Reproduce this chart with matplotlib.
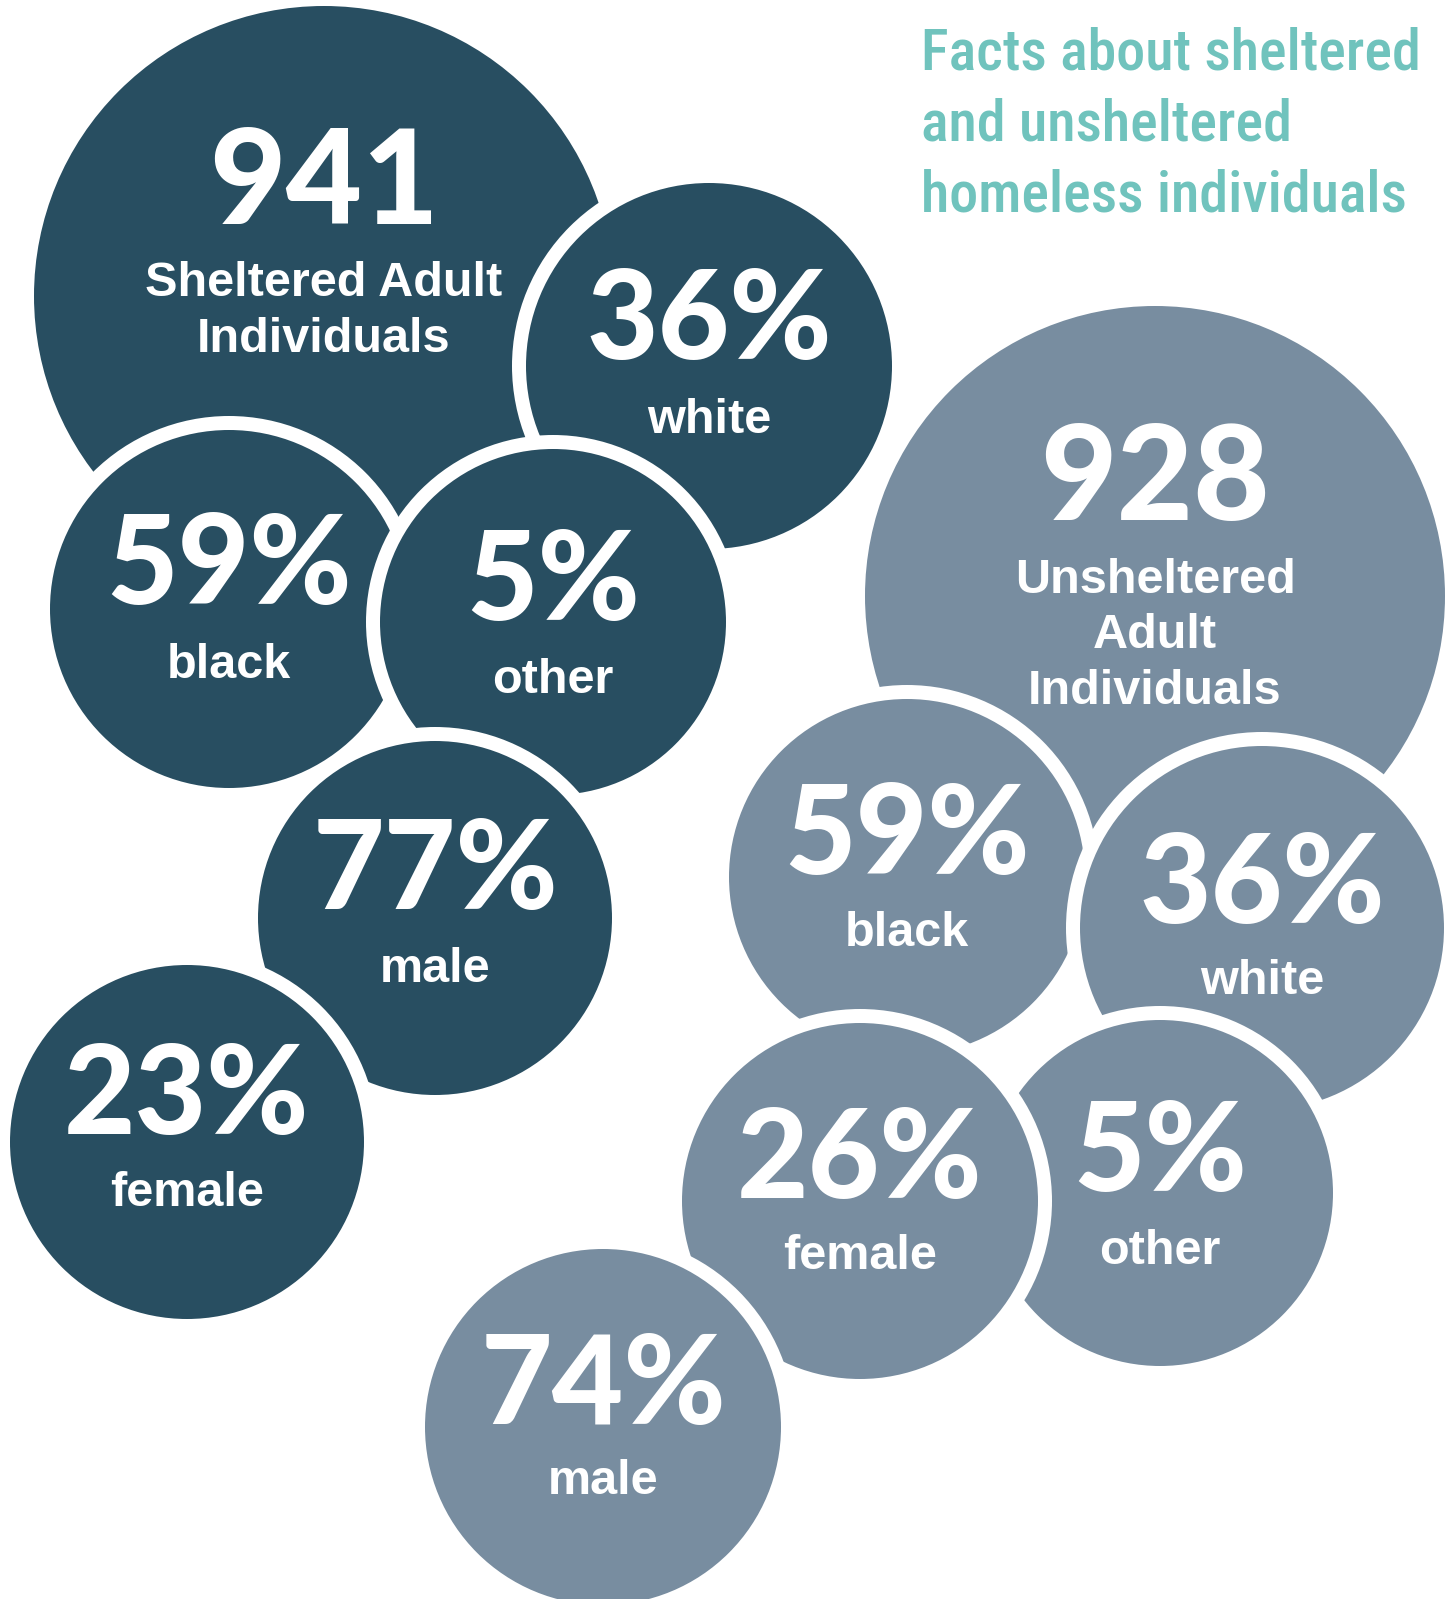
import matplotlib
matplotlib.use("Agg")
import matplotlib.pyplot as plt
from matplotlib.patches import Circle

# ---- data ----
title_lines = ["Facts about sheltered", "and unsheltered", "homeless individuals"]

sheltered_values = ["941", "36%", "59%", "5%", "77%", "23%"]
sheltered_labels = ["Sheltered Adult\nIndividuals", "white", "black", "other", "male", "female"]

unsheltered_values = ["928", "59%", "36%", "5%", "26%", "74%"]
unsheltered_labels = ["Unsheltered\nAdult\nIndividuals", "black", "white", "other", "female", "male"]

# ---- layout (pixel coordinates; drawing order = stacking order) ----
sheltered_layout = [  # cx, cy, r, number baseline, first label baseline
    (324, 296, 290, 224, 296),
    (709, 366, 183, 359, 433),
    (229, 609, 179, 604, 678),
    (553, 622, 173, 620, 693),
    (435, 918, 177, 909, 982),
    (187, 1142, 177, 1134, 1206),
]
unsheltered_layout = [
    (1155, 596, 290, 520, 593),
    (907, 877, 178, 874, 946),
    (1262, 928, 182, 923, 994),
    (1160, 1193, 173, 1191, 1264),
    (860, 1201, 178, 1198, 1269),
    (603, 1427, 178, 1424, 1494),
]

DARK = "#284e61"
GRAY = "#788da0"
TEAL = "#70c3bd"
BORDER = 14
LINE_STEP = 55.5

W, H = 1455, 1599
fig = plt.figure(figsize=(W / 100, H / 100), dpi=100)
ax = fig.add_axes([0, 0, 1, 1])
ax.set_xlim(0, W)
ax.set_ylim(H, 0)
ax.set_aspect("equal")
ax.axis("off")

NUM_FONT = dict(family=["Lato", "DejaVu Sans"], weight="black", color="white")
LAB_FONT = dict(family=["Liberation Sans", "DejaVu Sans"], weight="bold", color="white")


def draw_group(values, labels, layout, color, z0):
    for i, (val, lab, (cx, cy, r, nb, lb)) in enumerate(zip(values, labels, layout)):
        z = z0 + i * 3
        ax.add_patch(Circle((cx, cy), r + BORDER, facecolor="white", edgecolor="none", zorder=z))
        ax.add_patch(Circle((cx, cy), r, facecolor=color, edgecolor="none", zorder=z + 1))
        big = (i == 0)
        ax.text(cx, nb, val, ha="center", va="baseline", fontsize=95 if big else 89,
                zorder=z + 2, **NUM_FONT)
        for k, line in enumerate(lab.split("\n")):
            ax.text(cx, lb + k * LINE_STEP, line, ha="center", va="baseline", fontsize=35,
                    zorder=z + 2, **LAB_FONT)


draw_group(sheltered_values, sheltered_labels, sheltered_layout, DARK, 10)
draw_group(unsheltered_values, unsheltered_labels, unsheltered_layout, GRAY, 50)

TITLE_FAMILY = ["Roboto Condensed", "Open Sans Condensed", "Liberation Sans Narrow",
                "Roboto", "DejaVu Sans"]
title_texts = []
for k, line in enumerate(title_lines):
    t = ax.text(921, 69 + k * 71.5, line, ha="left", va="baseline", fontsize=44,
                color=TEAL, family=TITLE_FAMILY, weight="medium", zorder=100)
    title_texts.append(t)

# fit the first title line to the reference width (~500 px)
renderer = fig.canvas.get_renderer()
w0 = title_texts[0].get_window_extent(renderer).width
scale = min(1.0, 500.0 / w0)
for t in title_texts:
    t.set_fontsize(44 * scale)

fig.savefig("out.png", dpi=100)
